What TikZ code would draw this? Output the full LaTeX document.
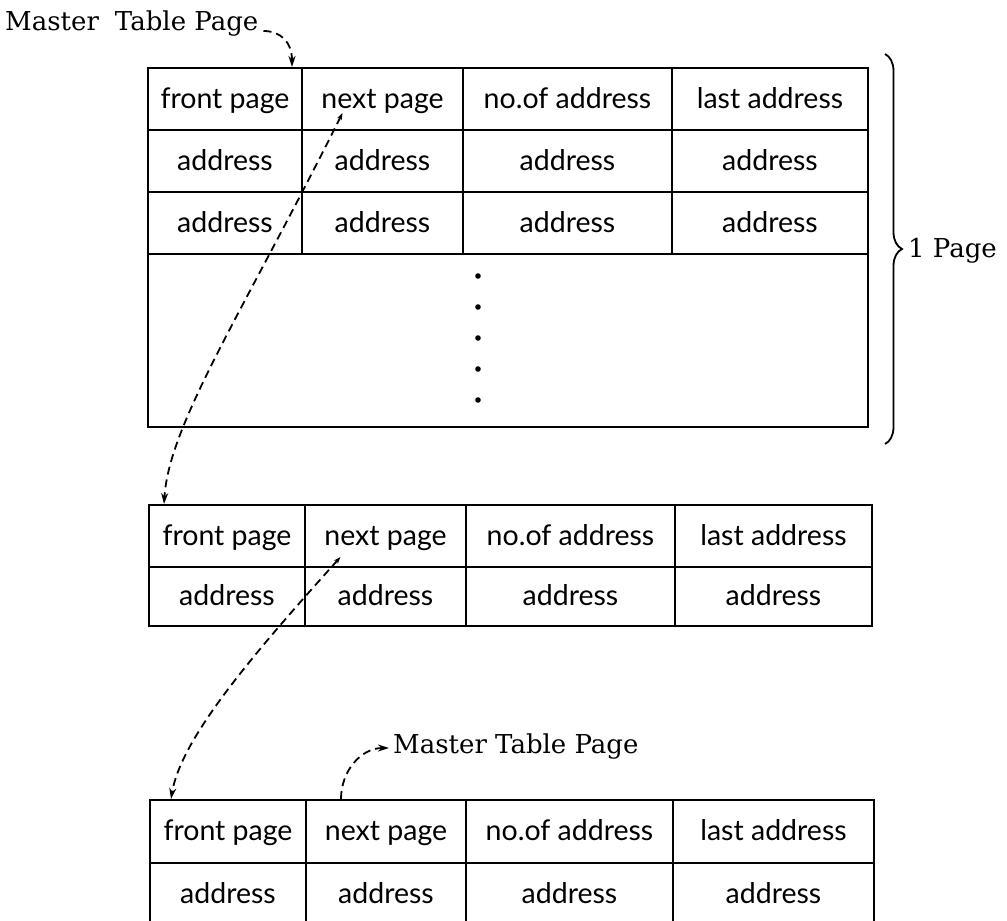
\documentclass[tikz,border=0pt]{standalone}
\usepackage{fontspec}
\setmainfont{DejaVu Serif}
\newfontfamily\cellfont{Lato}
\usetikzlibrary{arrows.meta,decorations.pathreplacing,calc}

% one table cell: name, x0, y0, x1, y1, text
\newcommand\tabcell[6]{%
  \node[cell, minimum width={(#4)-(#2)}, minimum height={(#5)-(#3)}]
    (#1) at ({((#2)+(#4))/2},{((#3)+(#5))/2}) {#6};}

\begin{document}
\begin{tikzpicture}[x=1pt,y=-1pt,
  cell/.style={draw, line width=2pt, inner sep=0pt, text height=20pt, text depth=2pt,
    font=\cellfont\fontsize{28.5}{28.5}\selectfont},
  link/.style={line width=1.8pt, dash pattern=on 8pt off 5pt},
  headtip/.style={-{Stealth[length=11pt,width=7pt]}},
  bothtips/.style={{Stealth[length=7pt,width=5pt]}-{Stealth[length=11pt,width=7pt]}},
  lbl/.style={font=\fontsize{26}{26}\selectfont, inner sep=0pt}]

\useasboundingbox (0,0) rectangle (1007,921);
\clip (0,0) rectangle (1007,921);

% first page of the master table
\tabcell{ta1}{148}{68}{302}{130}{front page}
\tabcell{ta2}{302}{68}{463}{130}{next page}
\tabcell{ta3}{463}{68}{672}{130}{no.of address}
\tabcell{ta4}{672}{68}{868}{130}{last address}
\tabcell{ta5}{148}{130}{302}{192}{address}
\tabcell{ta6}{302}{130}{463}{192}{address}
\tabcell{ta7}{463}{130}{672}{192}{address}
\tabcell{ta8}{672}{130}{868}{192}{address}
\tabcell{ta9}{148}{192}{302}{254}{address}
\tabcell{ta10}{302}{192}{463}{254}{address}
\tabcell{ta11}{463}{192}{672}{254}{address}
\tabcell{ta12}{672}{192}{868}{254}{address}
\tabcell{tabody}{148}{254}{868}{427}{}
\foreach \y in {276,307,338,369,400} \fill (478,\y) circle (2.8);

% second page
\tabcell{tb1}{149}{505}{305}{567}{front page}
\tabcell{tb2}{305}{505}{466}{567}{next page}
\tabcell{tb3}{466}{505}{675}{567}{no.of address}
\tabcell{tb4}{675}{505}{872}{567}{last address}
\tabcell{tb5}{149}{567}{305}{626}{address}
\tabcell{tb6}{305}{567}{466}{626}{address}
\tabcell{tb7}{466}{567}{675}{626}{address}
\tabcell{tb8}{675}{567}{872}{626}{address}

% third page
\tabcell{tc1}{150}{800}{306}{863}{front page}
\tabcell{tc2}{306}{800}{466}{863}{next page}
\tabcell{tc3}{466}{800}{673}{863}{no.of address}
\tabcell{tc4}{673}{800}{874}{863}{last address}
\tabcell{tc5}{150}{863}{306}{926}{address}
\tabcell{tc6}{306}{863}{466}{926}{address}
\tabcell{tc7}{466}{863}{673}{926}{address}
\tabcell{tc8}{673}{863}{874}{926}{address}

% labels
\node[lbl, anchor=base west] (m1) at (5,30) {Master\hspace{0.3em} Table Page};
\node[lbl, anchor=base west] (m2) at (393,753) {Master Table Page};
\node[lbl, anchor=base west] (pg) at (908,257) {1 Page};

% brace spanning one page
\coordinate (bt) at (885,54);
\coordinate (bb) at (885,444);
\draw[line width=1.8pt, decorate, decoration={brace, amplitude=17pt}] (bt) -- (bb);

% pointer links
\draw[link, headtip] ($(m1.base east)+(5,1)$) .. controls +(17,0) and +(0,-25) .. ($(ta2.north west)+(-9,0)$);
\draw[link, bothtips] ($(ta2.center)+(-40,14)$) .. controls +(-100,200) and +(5,-80) .. ($(tb1.north west)+(16,0)$);
\draw[link, bothtips] ($(tb2.center)+(-45,21)$) .. controls +(-90,100) and +(10,-60) .. ($(tc1.north west)+(22,0)$);
\draw[link, headtip] ($(tc2.north west)+(36,0)$) .. controls +(0,-28) and +(-28,0) .. ($(m2.base west)+(-4,-5)$);
\end{tikzpicture}
\end{document}
